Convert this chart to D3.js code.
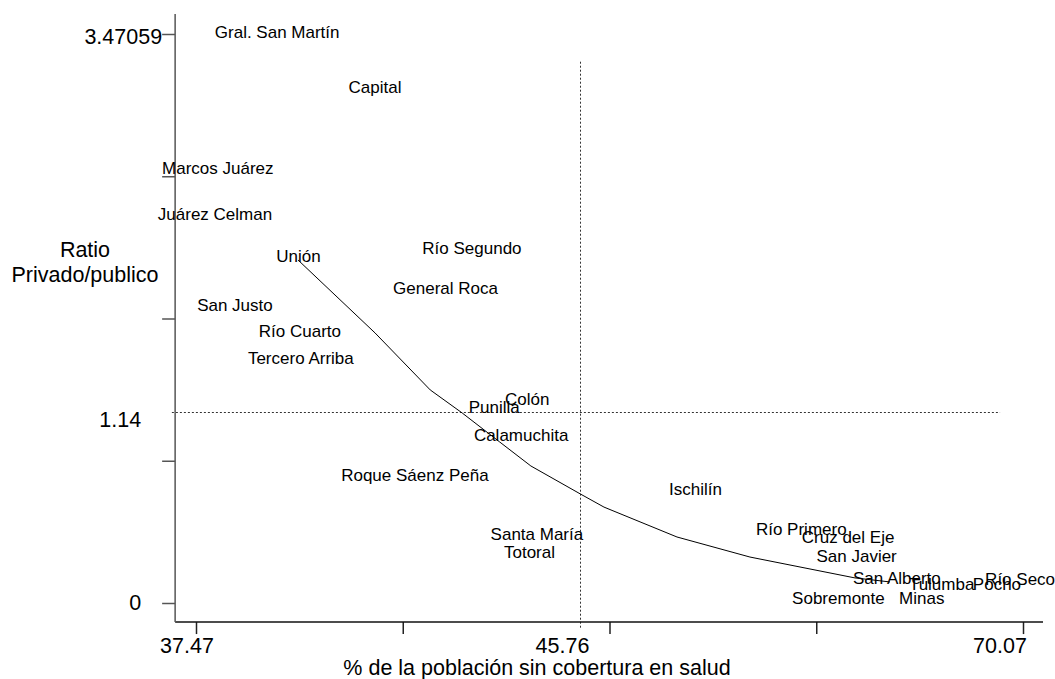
<!DOCTYPE html>
<html>
<head>
<meta charset="utf-8">
<script src="https://cdn.jsdelivr.net/npm/d3@7"></script>
<style>
  body { margin: 0; background: #fff; }
  svg { display: block; }
  text { font-family: "Liberation Sans", Arial, Helvetica, sans-serif; fill: #000; }
</style>
</head>
<body>
<svg id="chart" width="1055" height="679"></svg>
<script>
// Departamentos de Córdoba: % sin cobertura de salud vs ratio privado/público
const departamentos = [
  "Gral. San Martín", "Capital", "Marcos Juárez", "Juárez Celman", "Unión",
  "Río Segundo", "General Roca", "San Justo", "Río Cuarto", "Tercero Arriba",
  "Punilla", "Colón", "Calamuchita", "Roque Sáenz Peña", "Santa María",
  "Totoral", "Ischilín", "Río Primero", "Cruz del Eje", "San Javier",
  "San Alberto", "Tulumba", "Pocho", "Río Seco", "Sobremonte", "Minas"
];
const sinCobertura = [
  39.22, 41.33, 37.94, 37.88, 39.68,
  43.42, 42.85, 38.31, 39.71, 39.73,
  43.90, 44.61, 44.48, 42.19, 44.82,
  44.66, 52.08, 57.89, 60.46, 60.93,
  63.14, 65.60, 68.64, 69.91, 59.93, 64.51
];
const ratioPrivPub = [
  3.47, 3.13, 2.63, 2.35, 2.09,
  2.14, 1.89, 1.79, 1.63, 1.46,
  1.16, 1.21, 0.99, 0.75, 0.40,
  0.29, 0.67, 0.43, 0.38, 0.27,
  0.135, 0.10, 0.10, 0.133, 0.015, 0.015
];

// Curva ajustada
const ajusteX = [39.67, 41.33, 42.52, 43.21, 44.02, 44.69, 45.76, 47.05, 51.06, 55.07, 60.84, 62.76];
const ajusteY = [2.079, 1.63, 1.279, 1.137, 0.963, 0.820, 0.652, 0.574, 0.395, 0.275, 0.150, 0.126];

// Etiquetas de los ejes y líneas de referencia
const xTickLabels = [37.47, 45.76, 70.07];
const yTickLabels = [0, 1.14, 3.47059];
const xRef = 45.76;
const yRef = 1.14;
const tickDivisions = 4;
const xAxisSpan = [37.02, 71.17];
const yAxisSpan = [-0.114, 3.594];
const xRefSpan = [36.95, 68.81];
const yRefSpan = [-0.16, 3.30];

const svg = d3.select("#chart");

const x = d3.scaleLinear().domain(xTickLabels).range([196, 580.5, 1023]);
const y = d3.scaleLinear().domain(yTickLabels).range([603, 412.5, 34]);

const xEnds = [x.range()[0], x.range()[x.range().length - 1]];
const yEnds = [y.range()[0], y.range()[y.range().length - 1]];
const xTicks = d3.range(tickDivisions + 1).map(i => x.invert(xEnds[0] + (xEnds[1] - xEnds[0]) * i / tickDivisions));
const yTicks = d3.range(tickDivisions + 1).map(i => y.invert(yEnds[0] + (yEnds[1] - yEnds[0]) * i / tickDivisions));

const axisX0 = x(xAxisSpan[0]);   // y-axis position
const axisY0 = y(yAxisSpan[0]);   // x-axis position

// Reference lines
svg.append("line")
  .attr("x1", x(xRefSpan[0])).attr("x2", x(xRefSpan[1]))
  .attr("y1", y(yRef)).attr("y2", y(yRef))
  .attr("stroke", "#333").attr("stroke-width", 1).attr("stroke-dasharray", "2,2");
svg.append("line")
  .attr("x1", x(xRef)).attr("x2", x(xRef))
  .attr("y1", y(yRefSpan[1])).attr("y2", y(yRefSpan[0]))
  .attr("stroke", "#333").attr("stroke-width", 1).attr("stroke-dasharray", "2,2");

// Axes
const xAxis = d3.axisBottom(x).tickValues(xTicks).tickSize(12).tickFormat("");
const gx = svg.append("g").attr("transform", `translate(0,${axisY0})`).call(xAxis);
gx.select(".domain").remove();
gx.selectAll(".tick line").attr("stroke", "#222").attr("stroke-width", 1.5);

const yAxis = d3.axisLeft(y).tickValues(yTicks).tickSize(13).tickFormat("");
const gy = svg.append("g").attr("transform", `translate(${axisX0},0)`).call(yAxis);
gy.select(".domain").remove();
gy.selectAll(".tick line").attr("stroke", "#555").attr("stroke-width", 1.5);

svg.append("line")
  .attr("x1", x(xAxisSpan[0])).attr("x2", x(xAxisSpan[1]))
  .attr("y1", axisY0).attr("y2", axisY0)
  .attr("stroke", "#111").attr("stroke-width", 1.5);
svg.append("line")
  .attr("x1", axisX0).attr("x2", axisX0)
  .attr("y1", y(yAxisSpan[0])).attr("y2", y(yAxisSpan[1]))
  .attr("stroke", "#555").attr("stroke-width", 1.5);

// Tick labels
const xLabelNudge = [-9, -18, -23];
svg.append("g").selectAll("text")
  .data(xTickLabels)
  .join("text")
  .attr("x", (d, i) => x(d) + xLabelNudge[i])
  .attr("y", axisY0 + 31)
  .attr("text-anchor", "middle")
  .attr("font-size", 21.5)
  .text(d => d);

const yLabelNudge = [[-34, 7], [-34, 14.5], [-13, 10.3]];
svg.append("g").selectAll("text")
  .data(yTickLabels)
  .join("text")
  .attr("x", (d, i) => axisX0 + yLabelNudge[i][0])
  .attr("y", (d, i) => y(d) + yLabelNudge[i][1])
  .attr("text-anchor", "end")
  .attr("font-size", 21.5)
  .text(d => d);

// Axis titles
svg.append("text")
  .attr("x", 537).attr("y", 674.5)
  .attr("text-anchor", "middle")
  .attr("font-size", 21.5)
  .text("% de la población sin cobertura en salud");

const yTitle = svg.append("text")
  .attr("text-anchor", "middle")
  .attr("font-size", 21.5);
yTitle.append("tspan").attr("x", 85).attr("y", 256.7).text("Ratio");
yTitle.append("tspan").attr("x", 85).attr("y", 281.7).text("Privado/publico");

// Fitted curve
const curvePts = ajusteX.map((d, i) => [d, ajusteY[i]]);
svg.append("path")
  .datum(curvePts)
  .attr("fill", "none")
  .attr("stroke", "#000")
  .attr("stroke-width", 1)
  .attr("d", d3.line().x(d => x(d[0])).y(d => y(d[1])));

// Department labels as markers
svg.append("g").selectAll("text")
  .data(departamentos)
  .join("text")
  .attr("x", (d, i) => x(sinCobertura[i]))
  .attr("y", (d, i) => y(ratioPrivPub[i]))
  .attr("dy", "0.22em")
  .attr("text-anchor", "middle")
  .attr("font-size", 17)
  .text(d => d);
</script>
</body>
</html>
